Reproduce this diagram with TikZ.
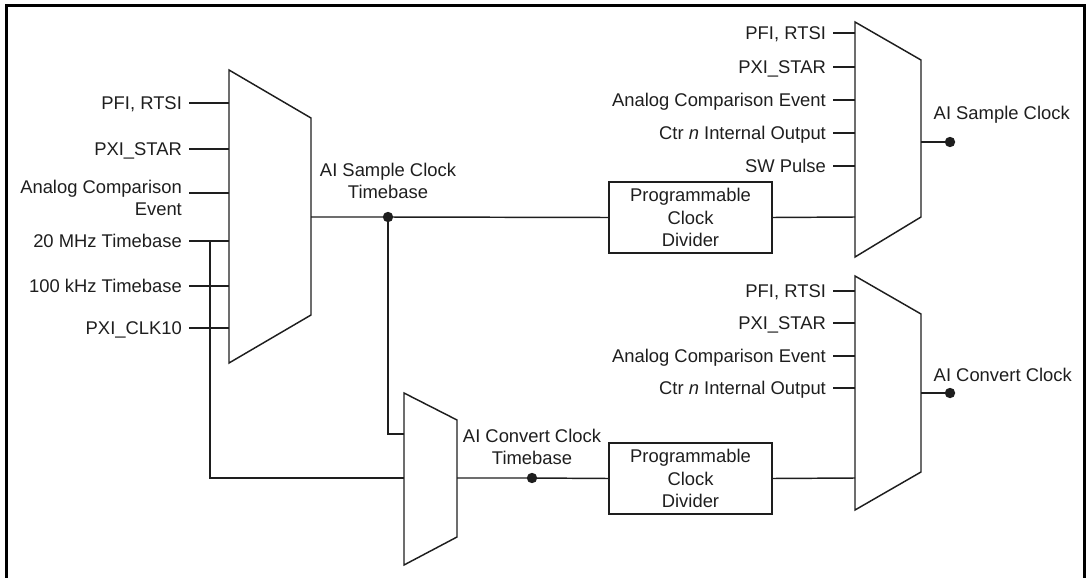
\documentclass[tikz,border=0pt]{standalone}
\usepackage{fontspec}
\setmainfont{Liberation Sans}
\definecolor{ink}{RGB}{30,30,30}
\newcommand{\lblfont}{\fontsize{13.8}{16.7}\selectfont}
\begin{document}
\begin{tikzpicture}[x=0.75pt,y=-0.75pt,line width=1.1pt,ink,
  lbl/.style={font=\lblfont,text height=9.9pt,text depth=0pt,inner xsep=4.8pt,inner ysep=0pt,anchor=east},
  mlbl/.style={font=\lblfont,align=right,inner xsep=4.8pt,inner ysep=0pt,anchor=east},
  clbl/.style={font=\lblfont,align=center,inner sep=0pt},
  olbl/.style={font=\lblfont,anchor=base west,inner sep=0pt},
  divbox/.style={draw,minimum width=122.25pt,minimum height=53.25pt,inner sep=0pt,align=center,font=\lblfont},
  dot/.style={circle,fill,inner sep=0pt,minimum size=7.8pt},
  muxshape/.style={line join=miter}]
\useasboundingbox (0,0) rectangle (1086,578);
% frame (bottom edge cut off)
\draw[line width=2.25pt,black] (6.5,578) -- (6.5,5) -- (1084,5) -- (1084,578);

% ---------- multiplexers ----------
\draw[muxshape] (229,70) -- (311,118) -- (311,315) -- (229,363) -- cycle;
\draw[muxshape] (404,393) -- (457,420) -- (457,537) -- (404,565) -- cycle;
\draw[muxshape] (855,22) -- (921,60) -- (921,217) -- (855,257) -- cycle;
\draw[muxshape] (855,276) -- (921,314) -- (921,472) -- (855,510) -- cycle;

% mux input/output points
\coordinate (a1) at (229,103);
\coordinate (a2) at (229,149);
\coordinate (a3) at (229,193);
\coordinate (a4) at (229,241);
\coordinate (a5) at (229,286);
\coordinate (a6) at (229,328);
\coordinate (aout) at (311,217);
\coordinate (c1) at (404,434);
\coordinate (c2) at (404,478);
\coordinate (cout) at (457,478);
\coordinate (b1) at (855,33);
\coordinate (b2) at (855,67);
\coordinate (b3) at (855,100);
\coordinate (b4) at (855,133);
\coordinate (b5) at (855,166);
\coordinate (b6) at (855,217);
\coordinate (bout) at (921,142);
\coordinate (d1) at (855,291);
\coordinate (d2) at (855,323);
\coordinate (d3) at (855,356);
\coordinate (d4) at (855,388);
\coordinate (d5) at (855,478);
\coordinate (dout) at (921,393);

% ---------- left mux inputs ----------
\node[lbl] (pa1) at (189,103) {PFI, RTSI};
\node[lbl] (pa2) at (189,149) {PXI\_STAR};
\node[mlbl] (pa3) at (189,198) {Analog Comparison\\Event};
\node[lbl] (pa4) at (189,241) {20 MHz Timebase};
\node[lbl] (pa5) at (189,286) {100 kHz Timebase};
\node[lbl] (pa6) at (189,328) {PXI\_CLK10};
\draw (pa1.east) -- (a1);
\draw (pa2.east) -- (a2);
\draw (pa3.east |- a3) -- (a3);
\draw (pa4.east) -- (a4);
\draw (pa5.east) -- (a5);
\draw (pa6.east) -- (a6);

% tap from 20 MHz Timebase to convert-timebase mux
\coordinate (tap) at (210,241);
\draw (tap) |- (c2);

% ---------- sample clock timebase ----------
\node[clbl] (tsl) at (388,181) {AI Sample Clock\\Timebase};
\node[dot] (dot1) at (388,217) {};
\node[divbox] (div1) at (690.5,217.5) {Programmable\\Clock\\Divider};
\draw (aout) -- (dot1.center) -- (div1.west);
\draw (dot1.center) |- (c1);
\draw (div1.east) -- (b6);

% ---------- convert clock timebase ----------
\node[clbl] (tcl) at (532,446.7) {AI Convert Clock\\Timebase};
\node[dot] (dot2) at (532,478) {};
\node[divbox] (div2) at (690.5,478.5) {Programmable\\Clock\\Divider};
\draw (cout) -- (dot2.center) -- (div2.west);
\draw (div2.east) -- (d5);

% ---------- AI Sample Clock mux ----------
\node[lbl] (pb1) at (833,33) {PFI, RTSI};
\node[lbl] (pb2) at (833,67) {PXI\_STAR};
\node[lbl] (pb3) at (833,100) {Analog Comparison Event};
\node[lbl] (pb4) at (833,133) {Ctr \textit{n} Internal Output};
\node[lbl] (pb5) at (833,166) {SW Pulse};
\draw (pb1.east) -- (b1);
\draw (pb2.east) -- (b2);
\draw (pb3.east) -- (b3);
\draw (pb4.east) -- (b4);
\draw (pb5.east) -- (b5);
\node[dot] (odot1) at (950,142) {};
\draw (bout) -- (odot1.center);
\node[olbl] (ob1) at (933,119.9) {AI Sample Clock};

% ---------- AI Convert Clock mux ----------
\node[lbl] (pd1) at (833,291) {PFI, RTSI};
\node[lbl] (pd2) at (833,323) {PXI\_STAR};
\node[lbl] (pd3) at (833,356) {Analog Comparison Event};
\node[lbl] (pd4) at (833,388) {Ctr \textit{n} Internal Output};
\draw (pd1.east) -- (d1);
\draw (pd2.east) -- (d2);
\draw (pd3.east) -- (d3);
\draw (pd4.east) -- (d4);
\node[dot] (odot2) at (950,393) {};
\draw (dout) -- (odot2.center);
\node[olbl] (od1) at (933,381) {AI Convert Clock};
\end{tikzpicture}
\end{document}
